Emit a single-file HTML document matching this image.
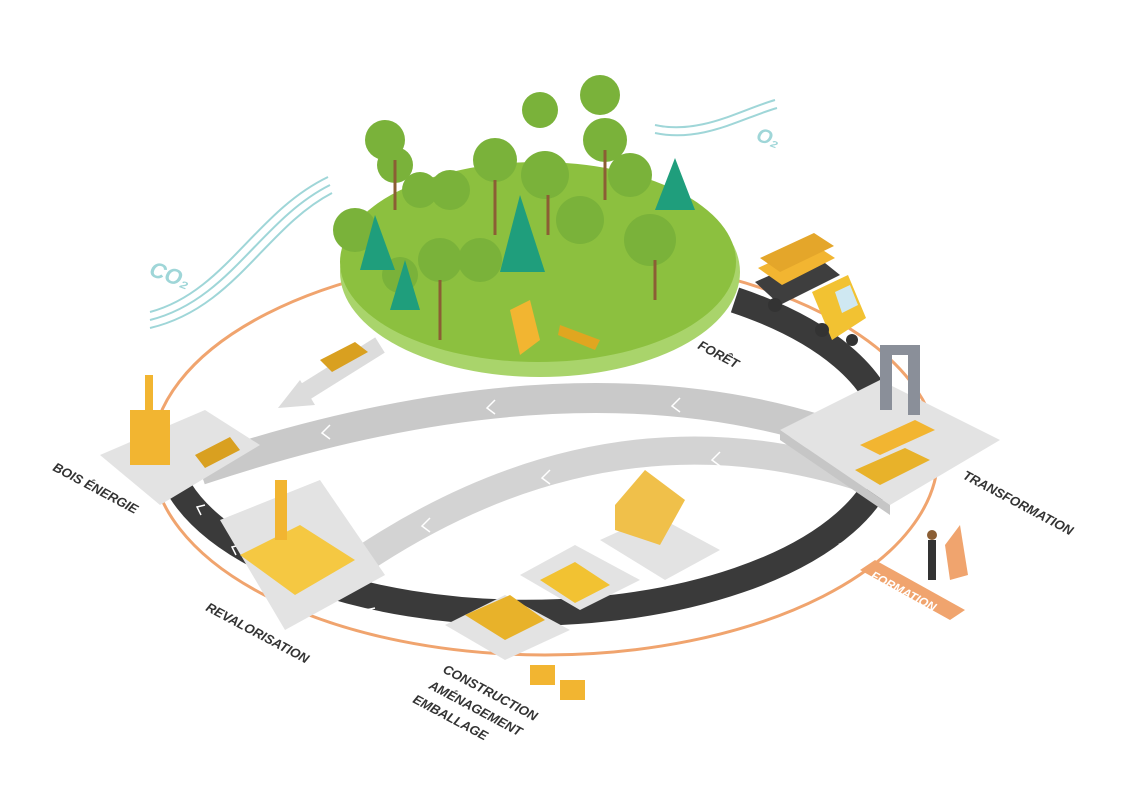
<!DOCTYPE html>
<html><head><meta charset="utf-8"><style>
html,body{margin:0;padding:0;background:#fff;}
svg{display:block;}
text{font-family:"Liberation Sans",sans-serif;font-weight:bold;font-style:italic;}
</style></head><body>
<svg width="1133" height="800" viewBox="0 0 1133 800" xmlns="http://www.w3.org/2000/svg">
<rect width="1133" height="800" fill="#fff"/>
<!-- orange ring -->
<ellipse cx="545" cy="455" rx="393" ry="200" fill="none" stroke="#f0a46e" stroke-width="3"/>
<!-- dark road -->
<path d="M180 490 A362 172 0 1 0 735 300" fill="none" stroke="#3a3a3a" stroke-width="26"/>
<g fill="none" stroke="#fff" stroke-width="1.5">
<path d="M205 505 l-8 2 4 8"/><path d="M240 545 l-8 2 4 8"/><path d="M305 585 l-9 2 5 8"/><path d="M375 608 l-9 2 5 8"/><path d="M420 620 l-9 2 5 8"/>
<path d="M700 610 l-10 4 10 6"/><path d="M760 590 l-10 4 10 6"/><path d="M810 568 l-10 4 10 6"/><path d="M850 540 l-10 4 10 6"/>
</g>
<!-- gray arcs -->
<path d="M820 430 Q560 350 200 470" fill="none" stroke="#c9c9c9" stroke-width="30"/>
<path d="M870 480 Q600 390 340 575" fill="none" stroke="#d3d3d3" stroke-width="28"/>
<g fill="none" stroke="#fff" stroke-width="1.5">
<path d="M330 425 l-8 8 8 6"/><path d="M495 400 l-8 8 8 6"/><path d="M680 398 l-8 8 8 6"/>
<path d="M430 518 l-8 8 8 6"/><path d="M550 470 l-8 8 8 6"/><path d="M720 452 l-8 8 8 6"/>
</g>
<!-- forest to bois énergie arrow -->
<path d="M380 345 L300 395" stroke="#dcdcdc" stroke-width="18"/>
<polygon points="278,408 300,380 315,405" fill="#dcdcdc"/>
<!-- forest island -->
<ellipse cx="540" cy="272" rx="200" ry="105" fill="#a9d46b"/>
<ellipse cx="538" cy="262" rx="198" ry="100" fill="#8cc03f"/>
<g fill="#7ab23a">
<circle cx="385" cy="140" r="20"/><circle cx="395" cy="165" r="18"/><circle cx="355" cy="230" r="22"/><circle cx="420" cy="190" r="18"/>
<circle cx="450" cy="190" r="20"/><circle cx="440" cy="260" r="22"/><circle cx="480" cy="260" r="22"/><circle cx="495" cy="160" r="22"/>
<circle cx="540" cy="110" r="18"/><circle cx="545" cy="175" r="24"/><circle cx="600" cy="95" r="20"/><circle cx="605" cy="140" r="22"/>
<circle cx="580" cy="220" r="24"/><circle cx="630" cy="175" r="22"/><circle cx="650" cy="240" r="26"/><circle cx="400" cy="275" r="18"/>
</g>
<g fill="#1f9e7c"><polygon points="520,195 500,272 545,272"/><polygon points="675,158 655,210 695,210"/><polygon points="375,215 360,270 395,270"/><polygon points="405,260 390,310 420,310"/></g>
<g stroke="#8b5e34" stroke-width="3"><line x1="395" y1="160" x2="395" y2="210"/><line x1="495" y1="180" x2="495" y2="235"/><line x1="548" y1="195" x2="548" y2="235"/><line x1="605" y1="150" x2="605" y2="200"/><line x1="655" y1="260" x2="655" y2="300"/><line x1="440" y1="280" x2="440" y2="340"/></g>
<polygon points="510,310 530,300 540,340 520,355" fill="#f2b531"/>
<polygon points="560,325 600,340 595,350 558,335" fill="#e0a620"/>
<polygon points="320,360 355,342 368,352 332,372" fill="#d9a020"/>
<!-- CO2 / O2 -->
<g fill="none" stroke="#9fd6d8" stroke-width="2">
<path d="M150 320 C230 300 260 220 330 185"/><path d="M150 328 C235 308 265 228 332 193"/><path d="M150 312 C225 292 255 212 328 177"/>
<path d="M655 125 C700 135 740 110 775 100"/><path d="M655 133 C702 143 742 118 777 108"/>
</g>
<text x="148" y="275" font-size="22" fill="#9fd6d8" transform="rotate(20 148 275)">CO₂</text>
<text x="755" y="140" font-size="20" fill="#9fd6d8" transform="rotate(20 755 140)">O₂</text>
<!-- truck -->
<polygon points="755,282 815,255 840,275 780,305" fill="#3e3e3e"/>
<polygon points="758,268 812,243 835,258 782,285" fill="#f2b531"/>
<polygon points="760,258 814,233 834,246 780,272" fill="#e4a62a"/>
<polygon points="812,292 848,275 866,318 832,340" fill="#f2c232"/>
<polygon points="835,292 850,285 858,305 842,313" fill="#cfe8f2"/>
<circle cx="775" cy="305" r="7" fill="#333"/><circle cx="822" cy="330" r="7" fill="#333"/><circle cx="852" cy="340" r="6" fill="#333"/>
<!-- platforms -->
<polygon points="780,430 880,380 1000,440 890,505" fill="#e3e3e3"/>
<polygon points="780,430 890,505 890,515 780,440" fill="#c6c6c6"/>
<rect x="880" y="350" width="12" height="60" fill="#8a8f99"/><rect x="908" y="355" width="12" height="60" fill="#8a8f99"/>
<rect x="880" y="345" width="40" height="10" fill="#8a8f99"/>
<polygon points="860,445 880,455 935,430 915,420" fill="#f2b531"/>
<polygon points="855,470 880,485 930,460 905,448" fill="#e8b22a"/>
<polygon points="100,455 205,410 260,445 160,505" fill="#e3e3e3"/>
<rect x="130" y="410" width="40" height="55" fill="#f2b531"/><rect x="145" y="375" width="8" height="35" fill="#f2b531"/>
<polygon points="195,455 230,437 240,450 205,468" fill="#d9a020"/>
<polygon points="220,520 320,480 385,575 285,630" fill="#e3e3e3"/>
<polygon points="240,555 300,525 355,560 295,595" fill="#f5c842"/><rect x="275" y="480" width="12" height="60" fill="#f2b531"/>
<polygon points="445,625 505,595 570,630 505,660" fill="#e3e3e3"/>
<polygon points="520,575 575,545 640,580 580,610" fill="#e3e3e3"/>
<polygon points="600,540 655,515 720,550 665,580" fill="#e3e3e3"/>
<polygon points="465,615 510,595 545,620 505,640" fill="#e8b22a"/>
<polygon points="540,580 575,562 610,585 575,603" fill="#f2c232"/>
<polygon points="615,505 645,470 685,500 660,545 615,530" fill="#f0c04a"/>
<rect x="530" y="665" width="25" height="20" fill="#f2b531"/><rect x="560" y="680" width="25" height="20" fill="#f2b531"/>
<!-- formation -->
<polygon points="860,570 875,560 965,610 950,620" fill="#f0a46e"/>
<text x="870" y="578" font-size="12" fill="#fff" transform="rotate(28 870 578)">FORMATION</text>
<rect x="928" y="540" width="8" height="40" fill="#333"/><circle cx="932" cy="535" r="5" fill="#8b5e34"/>
<polygon points="945,545 960,525 968,575 950,580" fill="#f0a46e"/>
<!-- labels -->
<g fill="#333" font-size="13">
<text x="697" y="348" transform="rotate(28 697 348)">FORÊT</text>
<text x="962" y="478" transform="rotate(28 962 478)">TRANSFORMATION</text>
<text x="52" y="470" transform="rotate(28 52 470)">BOIS ÉNERGIE</text>
<text x="205" y="610" transform="rotate(28 205 610)">REVALORISATION</text>
<text x="442" y="672" transform="rotate(28 442 672)">CONSTRUCTION</text>
<text x="428" y="688" transform="rotate(28 428 688)">AMÉNAGEMENT</text>
<text x="412" y="702" transform="rotate(28 412 702)">EMBALLAGE</text>
</g>
</svg>
</body></html>
